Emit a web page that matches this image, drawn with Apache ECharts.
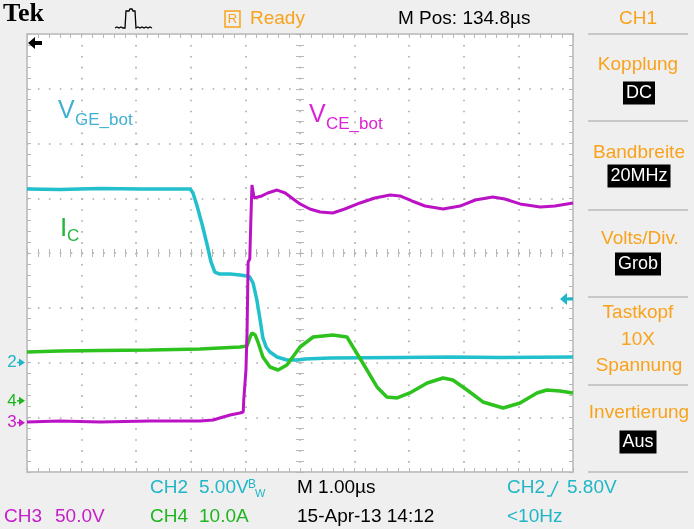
<!DOCTYPE html>
<html><head><meta charset="utf-8">
<script src="https://cdn.jsdelivr.net/npm/echarts@6/dist/echarts.min.js"></script>
<style>html,body{margin:0;padding:0;background:#efefef}#c{width:694px;height:529px}</style>
</head><body><div id="c"></div>
<script>
// time in microseconds relative to screen centre (1 us / div)
const timeCH2 = [-5.0,-4.4,-3.66,-2.93,-2.2,-2.01,-1.96,-1.89,-1.79,-1.7,-1.63,-1.56,-1.47,-1.28,-1.1,-0.97,-0.92,-0.86,-0.79,-0.73,-0.68,-0.62,-0.55,-0.42,-0.24,-0.05,0.09,0.55,1.83,2.75,3.66,5.0];
const voltCH2 = [15.85,15.8,15.9,15.85,15.85,15.85,15.48,14.38,12.56,10.73,9.18,8.26,8.08,8.08,7.99,7.9,7.81,7.26,5.71,3.88,2.24,1.42,0.96,0.5,0.23,0.23,0.32,0.41,0.46,0.5,0.46,0.5];
const timeCH3 = [-5.0,-4.4,-3.66,-2.75,-1.83,-1.59,-1.47,-1.28,-1.1,-1.04,-1.03,-0.99,-0.97,-0.95,-0.92,-0.9,-0.88,-0.84,-0.81,-0.7,-0.59,-0.42,-0.27,-0.15,0,0.18,0.37,0.6,0.82,1.1,1.37,1.65,1.83,2.05,2.29,2.62,2.93,3.21,3.53,3.75,4.03,4.4,4.67,5.0];
const voltCH3 = [0.65,1.6,0.65,1.6,1.6,2.5,4.3,7.0,8.9,9.8,20.8,48.2,82.0,146.8,149.5,185.1,217.1,205.2,203.4,207.1,209.8,212.5,209.8,205.2,199.8,195.2,192.5,191.5,195.2,200.7,205.2,208.0,207.1,202.5,197.9,195.2,197.9,203.4,206.1,204.3,199.8,197.0,197.9,200.7];
const timeCH4 = [-5.0,-4.4,-3.66,-2.75,-1.83,-1.1,-0.97,-0.92,-0.88,-0.82,-0.77,-0.68,-0.55,-0.4,-0.24,0,0.24,0.6,0.86,0.97,1.15,1.41,1.59,1.78,2.01,2.33,2.62,2.8,3.06,3.35,3.72,4.03,4.34,4.52,4.76,5.0];
const ampCH4 = [8.92,9.1,9.19,9.28,9.47,9.83,10.01,11.47,12.39,12.02,10.74,8.0,6.18,5.63,6.54,9.83,11.66,12.02,11.66,9.83,6.91,2.53,0.7,0.52,1.43,3.26,4.17,3.8,1.98,-0.21,-1.31,-0.4,1.43,1.98,1.79,1.43];
// channel settings: units per division and ground position (divisions from centre)
const chNames = ['CH2','CH3','CH4'];
const chPerDiv = [5, 50, 10];
const chGround = [-2.0, -3.1, -2.7];
const triggerLevelCH2 = 5.80;

const C_CYAN = '#22bfcc', C_MAG = '#bb12c6', C_GRN = '#2ec21e';
const T_CYAN = '#1fb6c6', T_MAG = '#c51ec8', T_GRN = '#1fb51f';
const ORANGE = '#f9a21b';
const FONT = '"Liberation Sans", Arial, sans-serif';

function toDiv(times, vals, i) {
  return times.map((t, k) => [t, vals[k] / chPerDiv[i] + chGround[i]]);
}

const tickCol = '#b8b8b8', frameCol = '#c6c6c6';
function edgeAxis(dim, pos, split) {
  const isX = dim === 'x';
  return {
    type: 'value', min: isX ? -5 : -4, max: isX ? 5 : 4, interval: 1, position: pos,
    axisLine: { show: true, onZero: false, lineStyle: { color: frameCol, width: 2 } },
    axisTick: { show: true, inside: true, length: 4, lineStyle: { color: tickCol, width: 1 } },
    minorTick: { show: true, splitNumber: 5, length: 4, lineStyle: { color: tickCol, width: 1 } },
    axisLabel: { show: false },
    splitLine: { show: split, lineStyle: { color: '#aaaaaa', width: 1.6, type: isX ? [1.6, 9.35] : [1.6, 9.32] } },
    minorSplitLine: { show: false }
  };
}
function centerAxis(dim, inside) {
  const isX = dim === 'x';
  return {
    type: 'value', min: isX ? -5 : -4, max: isX ? 5 : 4, interval: 1, position: isX ? 'bottom' : 'left',
    axisLine: { show: false, onZero: true, onZeroAxisIndex: 0 },
    axisTick: { show: true, inside: inside, length: 4, lineStyle: { color: tickCol, width: 1 } },
    minorTick: { show: true, splitNumber: 5, length: 4, lineStyle: { color: tickCol, width: 1 } },
    axisLabel: { show: false }, splitLine: { show: false }
  };
}

function txt(text, x, y, fill, size, align, extra) {
  return { type: 'text', x: x, y: y, z: 50, silent: true,
    style: Object.assign({ text: text, fill: fill, font: size + 'px ' + FONT, align: align || 'left', verticalAlign: 'middle' }, extra || {}) };
}
function box(text, x, y) {
  return txt(text, x, y, '#fff', 18, 'center', { backgroundColor: '#000', padding: [3, 3, 2, 3] });
}
function line(pts, stroke, w) {
  return { type: 'polyline', z: 50, silent: true, shape: { points: pts }, style: { stroke: stroke, lineWidth: w, fill: null } };
}
function poly(pts, fill) {
  return { type: 'polygon', z: 50, silent: true, shape: { points: pts }, style: { fill: fill } };
}

const chart = echarts.init(document.getElementById('c'), null, { renderer: 'canvas' });

const graphics = [
  // header
  txt('Tek', 3, 14, '#000', 26, 'left', { font: 'bold 26px "Liberation Serif", "Times New Roman", serif' }),
  line([[115,28],[117,27],[119,28],[121,27],[123,28],[125,28],[126,11],[129,11],[130,9],[132,9],[133,11],[135,11],[136,28],[138,27],[140,28],[142,27],[144,28],[146,27],[148,28],[150,27],[152,28]], '#000', 1.3),
  { type: 'rect', z: 50, silent: true, shape: { x: 225, y: 11, width: 15, height: 16 }, style: { stroke: ORANGE, lineWidth: 1.5, fill: null } },
  txt('R', 232.5, 19.5, ORANGE, 13, 'center'),
  txt('Ready', 250, 19, ORANGE, 19),
  txt('M Pos: 134.8\u00b5s', 398, 19, '#000', 19),
  txt('CH1', 638, 19, ORANGE, 19, 'center'),
  // right panel
  txt('Kopplung', 638, 65, ORANGE, 19, 'center'),
  box('DC', 639, 93),
  txt('Bandbreite', 639, 153, ORANGE, 19, 'center'),
  box('20MHz', 639, 176),
  txt('Volts/Div.', 640, 239, ORANGE, 19, 'center'),
  box('Grob', 638, 264),
  txt('Tastkopf', 638, 313, ORANGE, 19, 'center'),
  txt('10X', 638, 340, ORANGE, 19, 'center'),
  txt('Spannung', 639, 366, ORANGE, 19, 'center'),
  txt('Invertierung', 639, 413, ORANGE, 19, 'center'),
  box('Aus', 638, 442),
  // bottom readouts
  txt('CH2', 150, 488, T_CYAN, 19),
  txt('5.00V', 199, 488, T_CYAN, 19),
  txt('B', 248, 485, T_CYAN, 12),
  txt('W', 255, 494, T_CYAN, 11),
  txt('M 1.00\u00b5s', 297, 488, '#000', 19),
  txt('CH2', 507, 488, T_CYAN, 19),
  line([[547,496],[551,496],[558,481]], T_CYAN, 1.5),
  txt('5.80V', 567, 488, T_CYAN, 19),
  txt('CH3', 4, 517, T_MAG, 19),
  txt('50.0V', 55, 517, T_MAG, 19),
  txt('CH4', 150, 517, T_GRN, 19),
  txt('10.0A', 199, 517, T_GRN, 19),
  txt('15-Apr-13 14:12', 297, 517, '#000', 19),
  txt('<10Hz', 507, 517, T_CYAN, 19),
  // trace labels
  txt('V', 58, 111, '#3fb0d2', 25),
  txt('GE_bot', 75, 120, '#3fb0d2', 17),
  txt('V', 309, 115, '#dc22d6', 25),
  txt('CE_bot', 326, 124, '#dc22d6', 17),
  txt('I', 60, 229, '#22b63a', 26),
  txt('C', 67, 236, '#22b63a', 17),
  // trigger position arrow
  poly([[28,43],[35,37],[35,41],[42,41],[42,45],[35,45],[35,49]], '#000')
];
// right panel separators
[34, 121, 210, 297, 385, 472].forEach(y => graphics.push(line([[588, y], [688, y]], '#c8c8c8', 2)));

const option = {
  animation: false,
  backgroundColor: '#efefef',
  grid: { left: 27, top: 34, width: 546, height: 438, show: true, backgroundColor: '#ffffff', borderWidth: 0 },
  xAxis: [edgeAxis('x', 'bottom', true), edgeAxis('x', 'top', false), centerAxis('x', true), centerAxis('x', false)],
  yAxis: [edgeAxis('y', 'left', true), edgeAxis('y', 'right', false), centerAxis('y', true), centerAxis('y', false)],
  series: [
    { name: chNames[0], type: 'line', data: toDiv(timeCH2, voltCH2, 0), showSymbol: false, z: 3, lineStyle: { color: C_CYAN, width: 3.5 } },
    { name: chNames[2], type: 'line', data: toDiv(timeCH4, ampCH4, 2), showSymbol: false, z: 4, lineStyle: { color: C_GRN, width: 3.5 } },
    { name: chNames[1], type: 'line', data: toDiv(timeCH3, voltCH3, 1), showSymbol: false, z: 5, lineStyle: { color: C_MAG, width: 3 } }
  ],
  graphic: graphics
};
chart.setOption(option);

// channel ground markers and trigger level arrow, positioned through the y scale
const markerCols = [T_CYAN, T_MAG, T_GRN];
const extra = [];
chNames.forEach((n, i) => {
  const y = chart.convertToPixel({ yAxisIndex: 0 }, chGround[i]);
  extra.push(txt(n.slice(2), 12, y, markerCols[i], 17, 'center'));
  extra.push(poly([[19, y - 4], [19, y + 4], [25, y]], markerCols[i]));
  extra.push(line([[17, y], [20, y]], markerCols[i], 1.5));
});
const ty = chart.convertToPixel({ yAxisIndex: 0 }, triggerLevelCH2 / chPerDiv[0] + chGround[0]);
extra.push(poly([[560, ty], [567, ty - 6], [567, ty + 6]], T_CYAN));
extra.push(line([[566, ty], [573, ty]], T_CYAN, 3));
chart.setOption({ graphic: graphics.concat(extra) });
</script>
</body></html>
